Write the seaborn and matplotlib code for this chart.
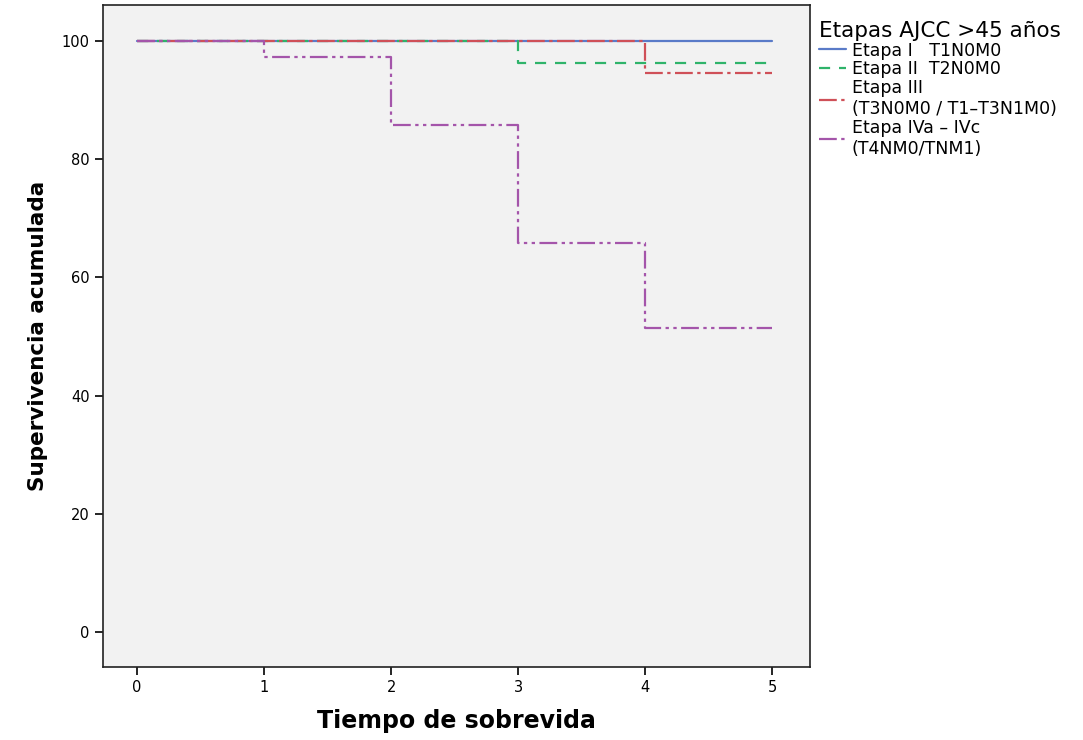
import matplotlib
matplotlib.use("Agg")
import matplotlib.pyplot as plt
import seaborn as sns
import pandas as pd

tiempo = [0, 1, 2, 3, 4, 5]
etapa_I = [100, 100, 100, 100, 100, 100]
etapa_II = [100, 100, 100, 96.3, 96.3, 96.3]
etapa_III = [100, 100, 100, 100, 94.7, 94.7]
etapa_IV = [100, 97.3, 85.8, 65.8, 51.4, 51.4]
labels = ["Etapa I   T1N0M0", "Etapa II  T2N0M0",
          "Etapa III\n(T3N0M0 / T1\u2013T3N1M0)",
          "Etapa IVa \u2013 IVc\n(T4NM0/TNM1)"]
series = [etapa_I, etapa_II, etapa_III, etapa_IV]
colors = ["#5a7bc8", "#2fb36a", "#cf5058", "#a455aa"]

rows = []
for lab, vals in zip(labels, series):
    for t, v in zip(tiempo, vals):
        rows.append({"t": t, "s": v, "grupo": lab})
df = pd.DataFrame(rows)

sns.set_style("ticks")
plt.rcParams["font.family"] = ["DejaVu Sans"]
plt.rcParams["text.color"] = "black"
plt.rcParams["axes.labelcolor"] = "black"
plt.rcParams["xtick.color"] = "black"
plt.rcParams["ytick.color"] = "black"

fig = plt.figure(figsize=(10.83, 7.4), dpi=100)
ax = fig.add_axes([0.095, 0.099, 0.653, 0.894])
ax.set_facecolor("#f2f2f2")

dashes = {labels[0]: "", labels[1]: (5, 4), labels[2]: (8, 2, 1.5, 2),
          labels[3]: (8, 2, 1.5, 2, 1.5, 2)}
sns.lineplot(data=df, x="t", y="s", hue="grupo", style="grupo",
             palette=dict(zip(labels, colors)), dashes=dashes,
             drawstyle="steps-post", linewidth=1.6, ax=ax, legend=True)

ax.set_xlim(-0.27, 5.3)
ax.set_ylim(-5.9, 106.1)
ax.set_xticks([0, 1, 2, 3, 4, 5])
ax.set_yticks([0, 20, 40, 60, 80, 100])
ax.tick_params(labelsize=10.5, length=6, width=1.2, color="black")
for sp in ax.spines.values():
    sp.set_visible(True)
    sp.set_color("#222222")
    sp.set_linewidth(1.2)
ax.set_xlabel("Tiempo de sobrevida", fontsize=17, fontweight="bold", labelpad=10)
ax.set_ylabel("Supervivencia acumulada", fontsize=15.5, fontweight="bold", labelpad=10)

handles, labs = ax.get_legend_handles_labels()
ax.legend(handles, labs, title="Etapas AJCC >45 años", loc="upper left",
          bbox_to_anchor=(0.995, 0.995), frameon=False, fontsize=12.5,
          title_fontsize=15.5, handlelength=1.6, handletextpad=0.3,
          labelspacing=0.05, borderaxespad=0.3, alignment="left")

fig.savefig("out.png", dpi=100, facecolor="white")
